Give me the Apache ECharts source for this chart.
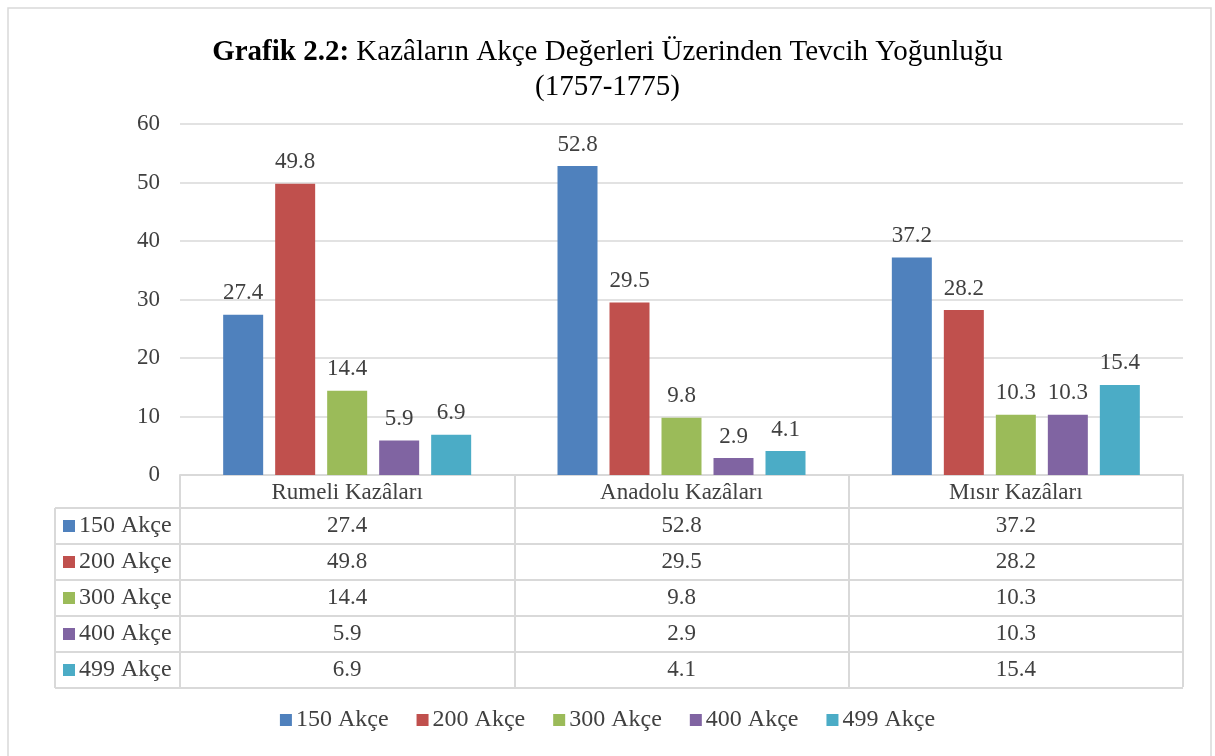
<!DOCTYPE html>
<html>
<head>
<meta charset="utf-8">
<script src="https://cdn.jsdelivr.net/npm/echarts@6/dist/echarts.min.js"></script>
<style>
  html, body { margin: 0; padding: 0; background: #fff; }
  #chart { width: 1215px; height: 756px; }
</style>
</head>
<body>
<div id="chart"></div>
<script>
// kategoriler ve seriler
const categories = ['Rumeli Kazâları', 'Anadolu Kazâları', 'Mısır Kazâları'];
const seriesNames = ['150 Akçe', '200 Akçe', '300 Akçe', '400 Akçe', '499 Akçe'];
const akce150 = [27.4, 52.8, 37.2];
const akce200 = [49.8, 29.5, 28.2];
const akce300 = [14.4, 9.8, 10.3];
const akce400 = [5.9, 2.9, 10.3];
const akce499 = [6.9, 4.1, 15.4];
const colors = ['#4F81BD', '#C0504D', '#9BBB59', '#8064A2', '#4BACC6'];

const values = [akce150, akce200, akce300, akce400, akce499];
const font = '"Liberation Serif", "Times New Roman", serif';
const lineColor = '#d9d9d9';
const textColor = '#404040';
const fs = 23;

// tablo satirlari
const tableTop = 508, rowH = 36, tableLeft = 55, plotRight = 1183;

const chart = echarts.init(document.getElementById('chart'));

const option = {
  animation: false,
  color: colors,
  title: {
    text: '{b|Grafik 2.2:} Kazâların Akçe Değerleri Üzerinden Tevcih Yoğunluğu\n(1757-1775)',
    left: 'center',
    top: 30,
    textStyle: {
      fontFamily: font,
      fontSize: 29,
      fontWeight: 'normal',
      color: '#000',
      lineHeight: 35,
      rich: {
        b: { fontFamily: font, fontSize: 29, fontWeight: 'bold', color: '#000', lineHeight: 35 }
      }
    }
  },
  legend: {
    bottom: 19,
    left: 'center',
    icon: 'rect',
    itemWidth: 12,
    itemHeight: 12,
    itemGap: 28,
    textStyle: { fontFamily: font, fontSize: 24, color: textColor, padding: [0, 0, 0, -1] },
    data: seriesNames
  },
  grid: { left: 180, right: 1215 - plotRight, top: 124, bottom: 756 - 475 },
  xAxis: {
    type: 'category',
    data: categories,
    axisLine: { show: true, lineStyle: { color: lineColor, width: 2 } },
    axisTick: { show: true, alignWithLabel: false, length: 687 - 475, lineStyle: { color: lineColor, width: 2 } },
    axisLabel: { fontFamily: font, fontSize: fs, color: textColor, margin: 6 }
  },
  yAxis: {
    type: 'value',
    min: 0,
    max: 60,
    interval: 10,
    axisLine: { show: false },
    axisTick: { show: false },
    axisLabel: { fontFamily: font, fontSize: fs, color: textColor, margin: 20 },
    splitLine: { lineStyle: { color: lineColor, width: 1.5 } }
  },
  series: seriesNames.map((name, i) => ({
    name: name,
    type: 'bar',
    data: values[i],
    barWidth: 40,
    barGap: '30%',
    itemStyle: { color: colors[i] },
    label: {
      show: true,
      position: 'top',
      distance: 10,
      fontFamily: font,
      fontSize: fs,
      color: textColor
    }
  }))
};
chart.setOption(option);

// veri tablosu
const graphic = [];
graphic.push({
  type: 'rect',
  shape: { x: 8, y: 8, width: 1203, height: 760 },
  style: { fill: null, stroke: lineColor, lineWidth: 1.5 },
  silent: true
});
for (let r = 0; r <= seriesNames.length; r++) {
  const y = tableTop + r * rowH;
  graphic.push({
    type: 'line',
    shape: { x1: tableLeft, y1: y, x2: plotRight, y2: y },
    style: { stroke: lineColor, lineWidth: 2 }
  });
}
graphic.push({
  type: 'line',
  shape: { x1: tableLeft, y1: tableTop, x2: tableLeft, y2: tableTop + seriesNames.length * rowH },
  style: { stroke: lineColor, lineWidth: 2 }
});
seriesNames.forEach((name, i) => {
  const cy = tableTop + i * rowH + rowH / 2;
  graphic.push({
    type: 'rect',
    shape: { x: 63, y: cy - 6, width: 12, height: 12 },
    style: { fill: colors[i] }
  });
  graphic.push({
    type: 'text',
    x: 79,
    y: cy,
    style: { text: name, fontFamily: font, fontSize: 24, fill: textColor, verticalAlign: 'middle', align: 'left' }
  });
  categories.forEach((cat, c) => {
    const cx = chart.convertToPixel({ xAxisIndex: 0 }, cat);
    graphic.push({
      type: 'text',
      x: cx,
      y: cy,
      style: { text: String(values[i][c]), fontFamily: font, fontSize: fs, fill: textColor, verticalAlign: 'middle', align: 'center' }
    });
  });
});
chart.setOption({ graphic: graphic });
</script>
</body>
</html>
